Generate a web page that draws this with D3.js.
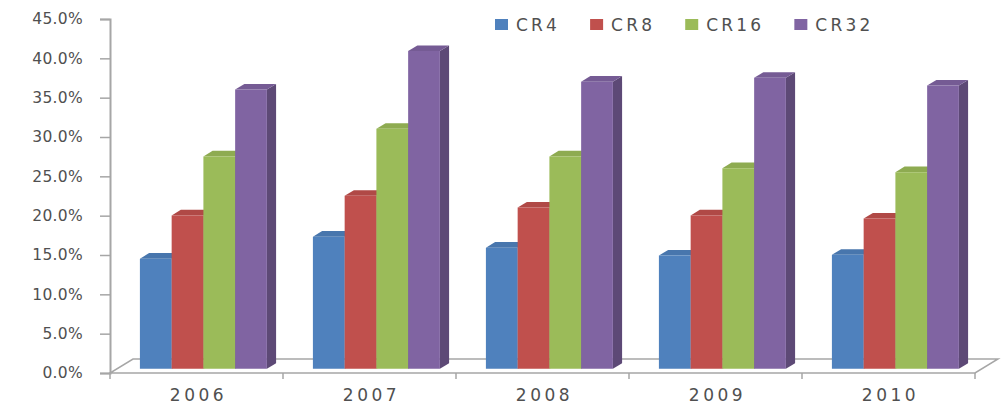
<!DOCTYPE html>
<html>
<head>
<meta charset="utf-8">
<script src="https://cdn.jsdelivr.net/npm/d3@7"></script>
<style>
  body { margin: 0; background: #fff; }
  text { font-family: "DejaVu Sans", Verdana, sans-serif; fill: #505050; }
</style>
</head>
<body>
<div id="chart"></div>
<script>
// data (percent)
const years = ['2006', '2007', '2008', '2009', '2010'];
const seriesNames = ['CR4', 'CR8', 'CR16', 'CR32'];
const cr4 = [14.0, 16.8, 15.4, 14.4, 14.5];
const cr8 = [19.5, 22.0, 20.5, 19.5, 19.1];
const cr16 = [27.0, 30.5, 27.0, 25.5, 25.0];
const cr32 = [35.5, 40.4, 36.5, 37.0, 36.0];
const yTicks = [0, 5, 10, 15, 20, 25, 30, 35, 40, 45];
const colors = ['#4f81bd', '#c0504d', '#9bbb59', '#8064a2'];

const seriesValues = [cr4, cr8, cr16, cr32];
const W = 1001, H = 407;
const plotLeft = 110, plotRight = 975, plotBase = 373, plotTop = 19;
const depth = {dx: 23, dy: -14};   // oblique floor depth
const barZ = [0.3, 0.7];          // bars sit in the middle of the depth

const svg = d3.select('#chart').append('svg').attr('width', W).attr('height', H);
svg.append('rect').attr('width', W).attr('height', H).attr('fill', '#fff');

const y = d3.scaleLinear().domain([0, 45]).range([plotBase, plotTop]);
const x = d3.scaleBand().domain(years).range([plotLeft, plotRight]).paddingInner(0.266).paddingOuter(0.133);
const xs = d3.scaleBand().domain(seriesNames).range([0, x.bandwidth()]);

const proj = (px, v, z) => [px + z * depth.dx, y(v) + z * depth.dy];

// floor
const g = svg.append('g');
const floor = [[plotLeft, 0, 0], [plotRight, 0, 0], [plotRight, 0, 1], [plotLeft, 0, 1]].map(p => proj(...p));
g.append('path')
  .attr('d', 'M' + floor.join('L') + 'Z')
  .attr('fill', 'none').attr('stroke', '#a6a6a6').attr('stroke-width', 1.5);

// boundary ticks on the category axis
const bounds = d3.range(years.length + 1).map(i => plotLeft + i * x.step());
g.selectAll('.xtick').data(bounds).enter().append('line')
  .attr('x1', d => d).attr('x2', d => d)
  .attr('y1', plotBase).attr('y2', plotBase + 6)
  .attr('stroke', '#a6a6a6').attr('stroke-width', 1.5);

// value axis
const yAxis = svg.append('g').attr('transform', `translate(${plotLeft},0)`)
  .call(d3.axisLeft(y).tickValues(yTicks).tickFormat(d => d.toFixed(1) + '%').tickSize(10).tickPadding(17));
yAxis.select('.domain').attr('stroke', '#a6a6a6').attr('stroke-width', 2);
yAxis.selectAll('.tick line').attr('stroke', '#a6a6a6').attr('stroke-width', 1.5);
yAxis.selectAll('.tick text')
  .attr('font-size', 15.5).attr('letter-spacing', 0.3)
  .attr('fill', '#505050').style('font-family', '"DejaVu Sans", Verdana, sans-serif');

// category labels
svg.selectAll('.xlabel').data(years).enter().append('text')
  .attr('class', 'xlabel')
  .attr('x', d => x(d) + x.bandwidth() / 2 + 2)
  .attr('y', 401)
  .attr('text-anchor', 'middle')
  .attr('font-size', 17).attr('letter-spacing', 3.5)
  .text(d => d);

// 3D bars
const bars = [];
years.forEach((yr, i) => {
  seriesNames.forEach((s, j) => {
    bars.push({year: yr, series: s, value: seriesValues[j][i], color: colors[j]});
  });
});

const poly = pts => 'M' + pts.map(p => proj(...p)).join('L') + 'Z';
const barG = svg.append('g').selectAll('g').data(bars).enter().append('g');
const x0 = d => x(d.year) + xs(d.series);
const x1 = d => x0(d) + xs.bandwidth();
const [zf, zb] = barZ;

barG.append('path') // right side
  .attr('d', d => poly([[x1(d), 0, zf], [x1(d), 0, zb], [x1(d), d.value, zb], [x1(d), d.value, zf]]))
  .attr('fill', d => d3.color(d.color).darker(0.9));
barG.append('path') // top
  .attr('d', d => poly([[x0(d), d.value, zf], [x1(d), d.value, zf], [x1(d), d.value, zb], [x0(d), d.value, zb]]))
  .attr('fill', d => d3.color(d.color).darker(0.25));
barG.append('path') // front
  .attr('d', d => poly([[x0(d), 0, zf], [x1(d), 0, zf], [x1(d), d.value, zf], [x0(d), d.value, zf]]))
  .attr('fill', d => d.color);

// legend
const legend = svg.append('g').attr('transform', 'translate(495,25)');
let lx = 0;
seriesNames.forEach((s, j) => {
  const item = legend.append('g').attr('transform', `translate(${lx},0)`);
  item.append('rect').attr('x', 0).attr('y', -6).attr('width', 13).attr('height', 11).attr('fill', colors[j]);
  const t = item.append('text').attr('x', 21).attr('y', 0).attr('dy', '0.35em')
    .attr('font-size', 17).attr('letter-spacing', 3.2).text(s);
  lx += 21 + t.node().getComputedTextLength() + 30;
});
</script>
</body>
</html>
